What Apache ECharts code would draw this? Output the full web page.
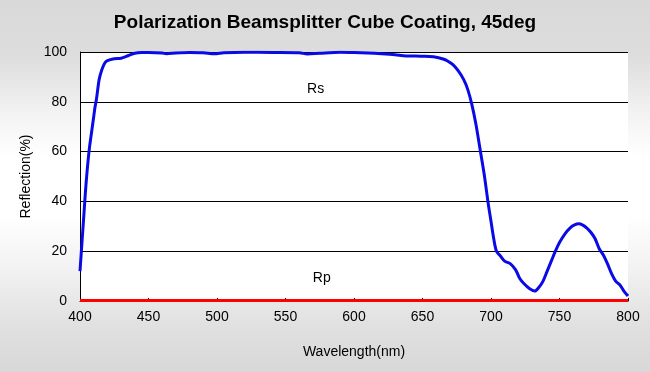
<!DOCTYPE html>
<html><head><meta charset="utf-8">
<script src="https://cdn.jsdelivr.net/npm/echarts@6/dist/echarts.min.js"></script>
<style>html,body{margin:0;padding:0;}#c{width:650px;height:372px;}</style>
</head><body><div id="c"></div>
<script>
const title = "Polarization Beamsplitter Cube Coating, 45deg";
const xName = "Wavelength(nm)";
const yName = "Reflection(%)";
const rsWl = [400,401,402,403,404,405,406,407,408,409,410,411,412,414,416,418,420,425,430,435,440,445,450,460,463,470,480,490,498,505,520,540,560,566,575,590,600,610,620,630,638,645,650,655,660,665,668,672,676,680,683,686,689,692,695,698,700,702,704,707,710,714,718,721,724,728,732,735,738,741,744,747,750,754,758,761,764,767,770,773,776,779,782,785,788,791,794,797,800];
const rsVal = [12,20,28,36,44,51,57,62,66,70,74,78,81,89,93,95.5,96.5,97.3,97.5,98.5,99.5,99.8,99.8,99.6,99.3,99.6,99.8,99.7,99.3,99.7,99.9,99.8,99.7,99.2,99.5,99.9,99.8,99.6,99.3,98.9,98.4,98.4,98.3,98.2,97.9,97.2,96.5,95,92.5,89,85,79,71,61,51,39,32,25,20,18,16,15,12.5,9,7,5,4,5.5,8,12,16,20,23.5,27,29.5,30.6,31,30.5,29.3,27.5,25,21,18.5,15,11,8,6.5,4,2];
const rpWl = [400,450,500,550,600,650,700,750,800];
const rpVal = [0.2,0.2,0.2,0.2,0.2,0.2,0.2,0.2,0.2];
const labels = [{name:"Rs", x:572, y:85}, {name:"Rp", x:576.5, y:9}];

const chart = echarts.init(document.getElementById('c'));
const font = "'Liberation Sans',Arial,sans-serif";
chart.setOption({
  animation:false,
  backgroundColor:{type:'linear',x:0,y:0,x2:0,y2:1,colorStops:[
    {offset:0,color:'#d9d9d9'},{offset:0.15,color:'#dddddd'},{offset:0.3,color:'#f2f2f2'},
    {offset:0.42,color:'#ffffff'},{offset:0.58,color:'#ffffff'},{offset:0.72,color:'#f2f2f2'},
    {offset:0.88,color:'#e0e0e0'},{offset:1,color:'#d8d8d8'}]},
  title:{text:title,left:'center',top:8,textStyle:{fontFamily:font,fontSize:19,fontWeight:'bold',color:'#000'}},
  grid:{left:80,right:22,top:52,bottom:71,show:true,backgroundColor:'#fff',borderWidth:0},
  xAxis:{type:'value',min:400,max:800,interval:50,name:xName,nameLocation:'middle',nameGap:44,
    nameTextStyle:{fontFamily:font,fontSize:14,color:'#000'},
    axisLine:{lineStyle:{color:'#000',width:1}},axisTick:{inside:true,length:3,lineStyle:{color:'#000'}},
    axisLabel:{fontFamily:font,fontSize:14,color:'#000',margin:9},splitLine:{show:false}},
  yAxis:{type:'value',min:0,max:100,interval:20,name:yName,nameLocation:'middle',nameGap:41,
    nameTextStyle:{fontFamily:font,fontSize:14,color:'#000'},
    axisLine:{show:true,lineStyle:{color:'#000',width:1}},axisTick:{show:false},
    axisLabel:{fontFamily:font,fontSize:14,color:'#000',margin:13},
    splitLine:{show:true,lineStyle:{color:'#000',width:1}}},
  series:[
    {name:'Rs',type:'line',data:rsWl.map((w,i)=>[w,rsVal[i]]),showSymbol:false,smooth:0.3,
     lineStyle:{color:'#0a0ae6',width:3},itemStyle:{color:'#0a0ae6'},
     markPoint:{symbol:'rect',symbolSize:0,silent:true,
       label:{show:true,formatter:'{b}',fontFamily:font,fontSize:14,color:'#000'},
       data:labels.map(l=>({name:l.name,coord:[l.x,l.y]}))}},
    {name:'Rp',type:'line',data:rpWl.map((w,i)=>[w,rpVal[i]]),showSymbol:false,
     lineStyle:{color:'#ff0000',width:3},itemStyle:{color:'#ff0000'}}
  ]
});
</script></body></html>
